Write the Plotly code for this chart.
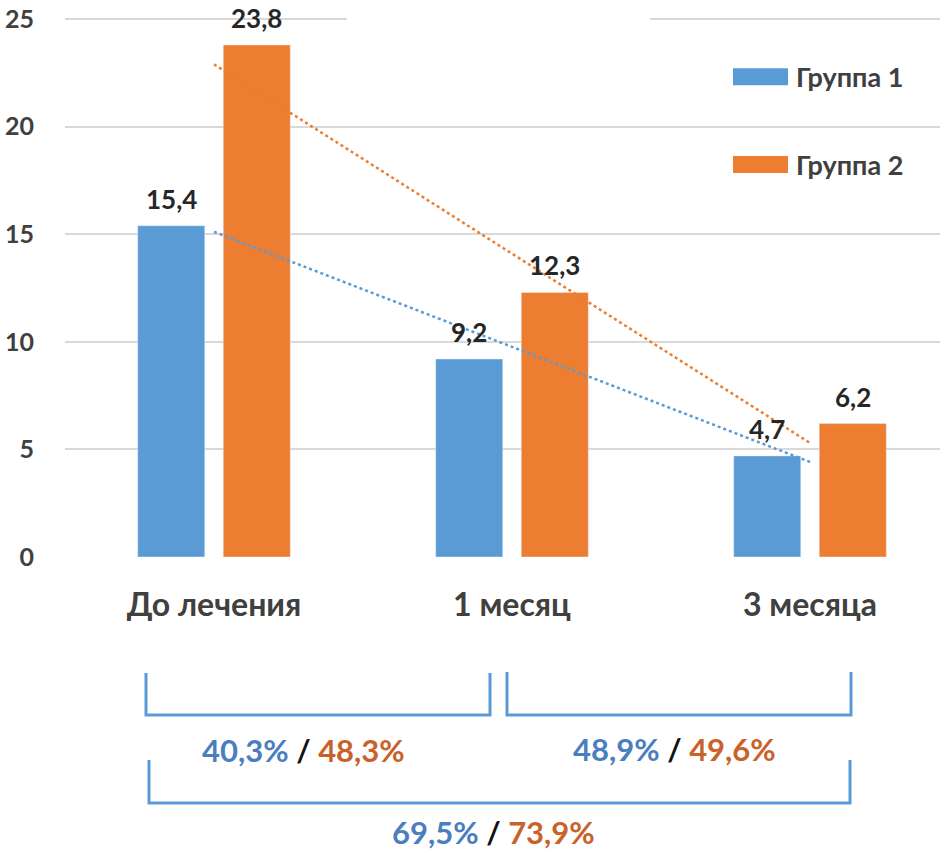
import numpy as np
import plotly.graph_objects as go

categories = ["До лечения", "1 месяц", "3 месяца"]
group1 = [15.4, 9.2, 4.7]
group2 = [23.8, 12.3, 6.2]
series_names = ["Группа 1", "Группа 2"]
y_ticks = [0, 5, 10, 15, 20, 25]
pct_labels = [("40,3%", "48,3%"), ("48,9%", "49,6%"), ("69,5%", "73,9%")]

BLUE = "#5B9BD5"
ORANGE = "#ED7D31"
BLUE_TXT = "#4A7EBF"
ORANGE_TXT = "#C9622A"
GRAY = "#404040"
FONT = "Lato, Open Sans, sans-serif"

W, H = 950, 864
Y_MAX = 25.1
PX_PER_UNIT = 21.52
# plot area in pixels
L, R, B = 65, 940, 557
T = B - Y_MAX * PX_PER_UNIT

def px(p):
    return (p - L) / (R - L)
def py(p):
    return (B - p) / (B - T)

fig = go.Figure()
fig.add_trace(go.Bar(x=categories, y=group1, name=series_names[0],
                     marker_color=BLUE, showlegend=False))
fig.add_trace(go.Bar(x=categories, y=group2, name=series_names[1],
                     marker_color=ORANGE, showlegend=False))

# linear trendlines (Excel style)
idx = np.arange(len(categories))
for vals, col in ((group1, BLUE), (group2, ORANGE)):
    k, b0 = np.polyfit(idx, vals, 1)
    fig.add_trace(go.Scatter(x=categories, y=k * idx + b0, mode="lines",
                             line=dict(color=col, width=2.5, dash="dot"),
                             showlegend=False, hoverinfo="skip"))

annotations = []
# data labels
for vals, shift in ((group1, -42.75), (group2, 42.75)):
    for c, v in zip(categories, vals):
        annotations.append(dict(x=c, y=v, xref="x", yref="y", xshift=shift, yshift=27,
                                yanchor="middle", showarrow=False,
                                text=f"{v:.1f}".replace(".", ","),
                                font=dict(family=FONT, size=26, color="#262626", weight="bold")))

# custom legend
shapes = []
for i, (name, col) in enumerate(zip(series_names, (BLUE, ORANGE))):
    yc = 76.5 + i * 88
    shapes.append(dict(type="rect", xref="paper", yref="paper",
                       x0=px(733), x1=px(788), y0=py(yc + 8.5), y1=py(yc - 8.5),
                       fillcolor=col, line=dict(width=0), layer="above"))
    annotations.append(dict(x=px(794), y=py(yc), xref="paper", yref="paper",
                            xanchor="left", yanchor="middle", showarrow=False, text=name,
                            font=dict(family=FONT, size=27, color=GRAY, weight="bold")))

# gap in top gridline
shapes.append(dict(type="rect", xref="paper", yref="paper",
                   x0=px(347), x1=px(650), y0=py(24), y1=py(14),
                   fillcolor="white", line=dict(width=0), layer="above"))

# brackets
def bracket(x1, x2, ytop, ybot):
    return dict(type="path", xref="paper", yref="paper",
                path=f"M {px(x1)},{py(ytop)} L {px(x1)},{py(ybot)} L {px(x2)},{py(ybot)} L {px(x2)},{py(ytop)}",
                line=dict(color=BLUE, width=3), layer="above")
shapes.append(bracket(146, 490, 673, 715))
shapes.append(bracket(507, 851, 672, 715))
shapes.append(bracket(149, 850, 760, 803))

pct_pos = [(303, 750), (674, 749), (493, 832)]
for (a, b), (xc, yc) in zip(pct_labels, pct_pos):
    annotations.append(dict(x=px(xc), y=py(yc), xref="paper", yref="paper",
                            xanchor="center", yanchor="middle", showarrow=False,
                            text=f'<span style="color:{BLUE_TXT}">{a}</span> / <span style="color:{ORANGE_TXT}">{b}</span>',
                            font=dict(family=FONT, size=31, color="#111111", weight="bold")))

fig.update_layout(
    width=W, height=H,
    margin=dict(l=L, r=W - R, t=T, b=H - B, autoexpand=False),
    paper_bgcolor="white", plot_bgcolor="white",
    barmode="group", bargap=0.426, bargroupgap=0.216,
    xaxis=dict(range=[-0.5, -0.5 + (R - L) / 298.0], showgrid=False, showline=False,
               zeroline=False, ticks="", ticklabelstandoff=26, automargin=False,
               tickfont=dict(family=FONT, size=32, color=GRAY, weight="bold")),
    yaxis=dict(range=[0, Y_MAX], tickvals=y_ticks, showgrid=True, gridcolor="#D9D9D9",
               gridwidth=1.5, zeroline=False, showline=False, ticks="",
               ticklabelstandoff=30, automargin=False,
               tickfont=dict(family=FONT, size=25, color=GRAY, weight="bold")),
    shapes=shapes, annotations=annotations,
)

fig.write_html("out.html", config={"displayModeBar": False},
               post_script="document.body.style.margin='0';")
